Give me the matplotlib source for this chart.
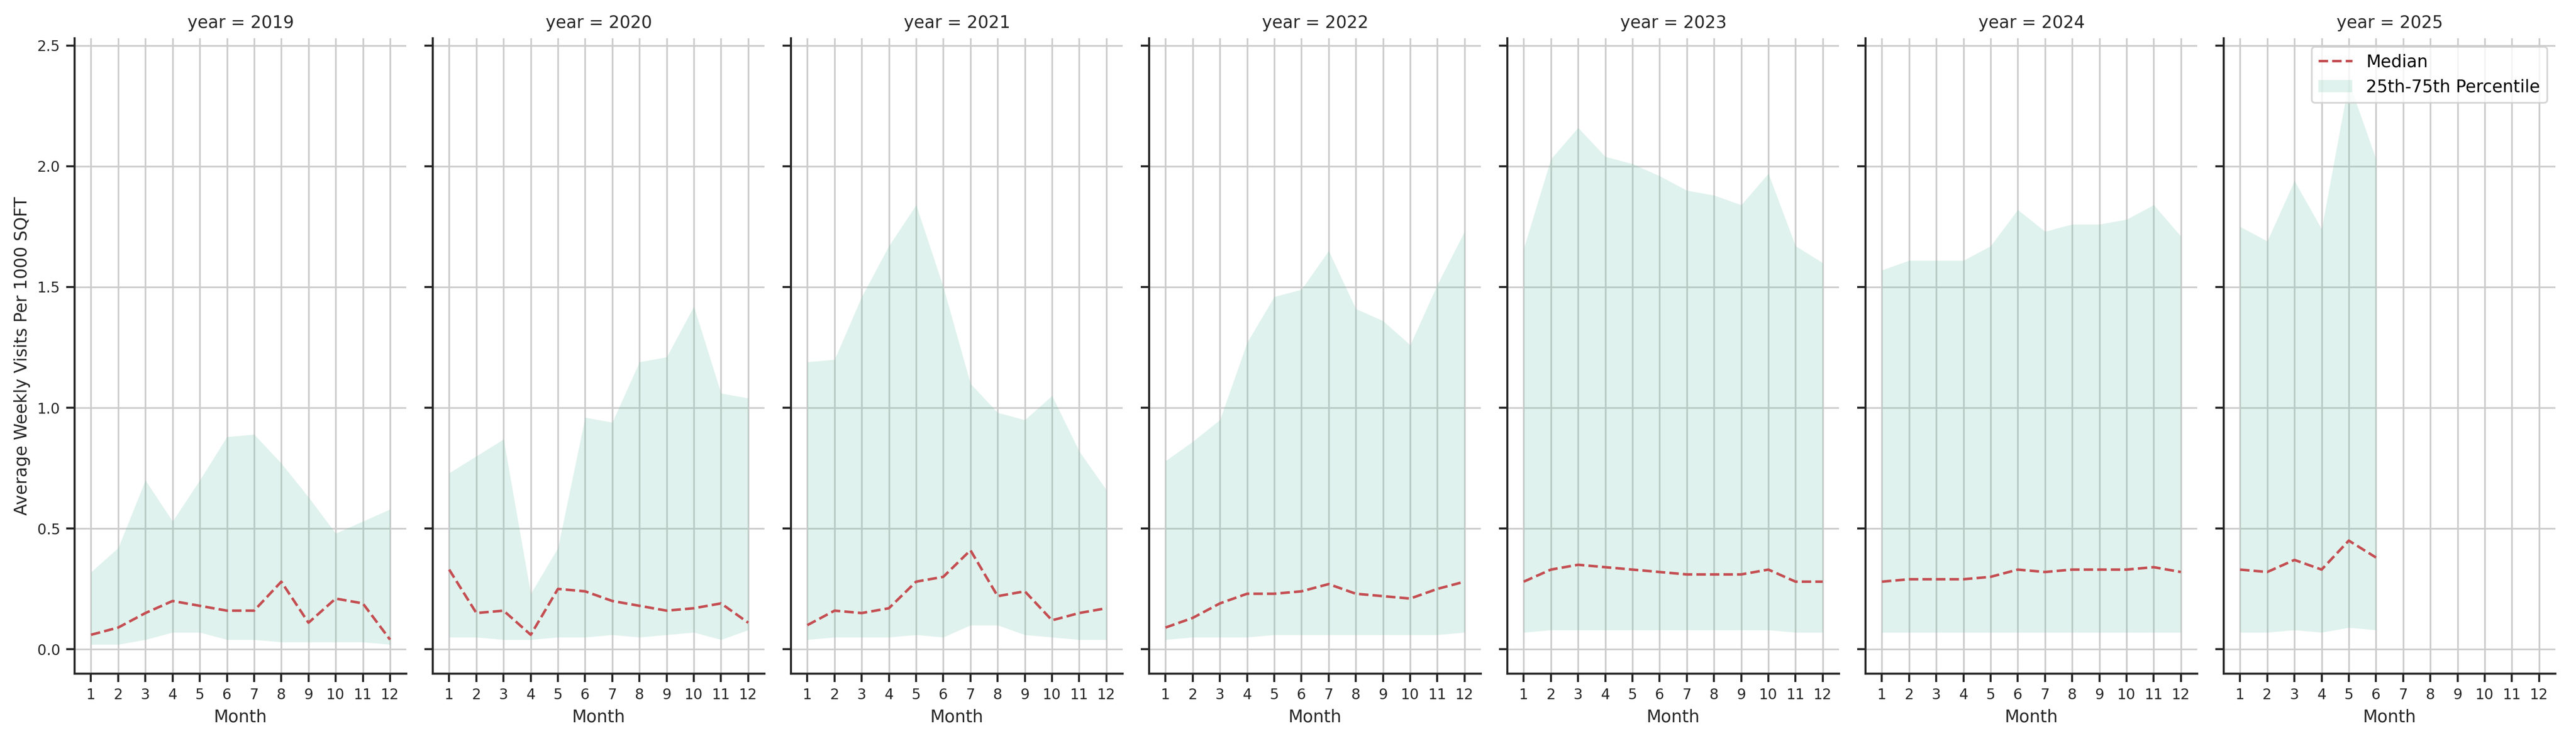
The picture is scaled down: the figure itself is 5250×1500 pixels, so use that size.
import numpy as np
import matplotlib
matplotlib.use("Agg")
import matplotlib.pyplot as plt

years = [2019, 2020, 2021, 2022, 2023, 2024, 2025]

median = {
    2019: [.06, .09, .15, .20, .18, .16, .16, .28, .11, .21, .19, .04],
    2020: [.33, .15, .16, .06, .25, .24, .20, .18, .16, .17, .19, .11],
    2021: [.10, .16, .15, .17, .28, .30, .41, .22, .24, .12, .15, .17],
    2022: [.09, .13, .19, .23, .23, .24, .27, .23, .22, .21, .25, .28],
    2023: [.28, .33, .35, .34, .33, .32, .31, .31, .31, .33, .28, .28],
    2024: [.28, .29, .29, .29, .30, .33, .32, .33, .33, .33, .34, .32],
    2025: [.33, .32, .37, .33, .45, .38],
}
q75 = {
    2019: [.32, .42, .70, .53, .70, .88, .89, .77, .63, .48, .53, .58],
    2020: [.73, .80, .87, .23, .42, .96, .94, 1.19, 1.21, 1.42, 1.06, 1.04],
    2021: [1.19, 1.20, 1.46, 1.67, 1.84, 1.50, 1.10, .98, .95, 1.05, .82, .66],
    2022: [.78, .86, .95, 1.27, 1.46, 1.49, 1.65, 1.41, 1.36, 1.26, 1.51, 1.73],
    2023: [1.66, 2.03, 2.16, 2.04, 2.01, 1.96, 1.90, 1.88, 1.84, 1.97, 1.67, 1.60],
    2024: [1.57, 1.61, 1.61, 1.61, 1.67, 1.82, 1.73, 1.76, 1.76, 1.78, 1.84, 1.71],
    2025: [1.75, 1.69, 1.94, 1.74, 2.35, 2.03],
}
q25 = {
    2019: [.02, .02, .04, .07, .07, .04, .04, .03, .03, .03, .03, .02],
    2020: [.05, .05, .04, .04, .05, .05, .06, .05, .06, .07, .04, .08],
    2021: [.04, .05, .05, .05, .06, .05, .10, .10, .06, .05, .04, .04],
    2022: [.04, .05, .05, .05, .06, .06, .06, .06, .06, .06, .06, .07],
    2023: [.07, .08, .08, .08, .08, .08, .08, .08, .08, .08, .07, .07],
    2024: [.07, .07, .07, .07, .07, .07, .07, .07, .07, .07, .07, .07],
    2025: [.07, .07, .08, .07, .09, .08],
}
months = list(range(1, 13))

plt.rcParams["font.family"] = "DejaVu Sans"
fig, axes = plt.subplots(1, 7, figsize=(21, 6), dpi=250, sharey=True)
fig.subplots_adjust(left=0.029, right=0.992, bottom=0.085, top=0.948, wspace=0.08)

for ax, yr in zip(axes, years):
    x = months[:len(median[yr])]
    ax.plot(x, median[yr], color="#c44e52", ls="--", lw=1.5, label="Median", zorder=4)
    ax.fill_between(x, q25[yr], q75[yr], color="#66c2a5", alpha=0.2, lw=0,
                    label="25th-75th Percentile", zorder=3)
    ax.set_title(f"year = {yr}", fontsize=10, color="#262626")
    ax.set_xticks(months)
    ax.set_xlim(0.4, 12.6)
    ax.set_ylim(-0.1, 2.53)
    ax.set_yticks([0, 0.5, 1.0, 1.5, 2.0, 2.5])
    ax.grid(True, color="#cccccc", lw=1, zorder=0)
    ax.set_axisbelow(True)
    ax.tick_params(labelsize=8.5, colors="#262626", length=5, width=1.2)
    for s in ["top", "right"]:
        ax.spines[s].set_visible(False)
    for s in ["left", "bottom"]:
        ax.spines[s].set_color("#262626")
        ax.spines[s].set_linewidth(1.2)
    ax.set_xlabel("Month", fontsize=10, color="#262626")

axes[0].set_ylabel("Average Weekly Visits Per 1000 SQFT", fontsize=10, color="#262626")
axes[-1].legend(loc="upper right", fontsize=10, framealpha=0.8)

fig.savefig("out.png")
